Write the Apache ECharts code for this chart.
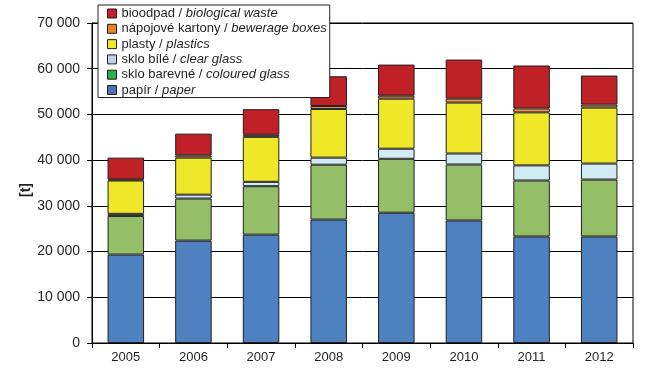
<!DOCTYPE html>
<html>
<head>
<meta charset="utf-8">
<script src="https://cdn.jsdelivr.net/npm/echarts@6/dist/echarts.min.js"></script>
<style>
  html, body { margin: 0; padding: 0; background: #fff; }
  #chart { width: 651px; height: 375px; }
</style>
</head>
<body>
<div id="chart"></div>
<script>
// data (t)
const years = ['2005', '2006', '2007', '2008', '2009', '2010', '2011', '2012'];
const paper = [19350, 22400, 23700, 27000, 28500, 26800, 23300, 23300];
const colouredGlass = [8450, 9200, 10600, 12000, 11800, 12250, 12250, 12450];
const clearGlass = [450, 850, 950, 1550, 2200, 2400, 3300, 3500];
const plastics = [7300, 8100, 9850, 10650, 10950, 11150, 11600, 12250];
const boxes = [200, 500, 450, 650, 650, 850, 850, 650];
const bioWaste = [4800, 4750, 5600, 6500, 6800, 8550, 9400, 6350];
const yTicks = [0, 10000, 20000, 30000, 40000, 50000, 60000, 70000];

const names = [
  'papír / paper',
  'sklo barevné / coloured glass',
  'sklo bílé / clear glass',
  'plasty / plastics',
  'nápojové kartony / bewerage boxes',
  'bioodpad / biological waste'
];
const barColors = ['#4e81bf', '#94be68', '#d0ebf3', '#eee829', '#f79646', '#c02127'];
const legendColors = ['#4a72b0', '#2bae4a', '#bed3ea', '#eee829', '#f07f2a', '#c8202a'];
const values = [paper, colouredGlass, clearGlass, plastics, boxes, bioWaste];

const fmt = v => String(v).replace(/\B(?=(\d{3})+(?!\d))/g, ' ');

const chart = echarts.init(document.getElementById('chart'));
chart.setOption({
  animation: false,
  textStyle: { fontFamily: 'Liberation Sans, Arial, sans-serif', color: '#231f20' },
  grid: {
    left: 92, right: 18, top: 23, bottom: 32,
    show: true, borderColor: '#000', borderWidth: 1
  },
  // unit label on the left, placed by hand
  graphic: [{
    type: 'text',
    x: 26, y: 190,
    rotation: Math.PI / 2,
    style: {
      text: '[t]',
      align: 'center',
      verticalAlign: 'middle',
      font: 'bold 14px "Liberation Sans", Arial, sans-serif',
      fill: '#231f20'
    }
  }],
  legend: {
    orient: 'vertical',
    left: 98, top: 5,
    padding: [2, 3, 1, 9],
    backgroundColor: '#fff',
    borderColor: '#231f20',
    borderWidth: 1,
    itemWidth: 9, itemHeight: 9,
    itemGap: 2.3,
    icon: 'rect',
    z: 10,
    data: names.slice().reverse().map((n, i) => ({
      name: n,
      itemStyle: { color: legendColors[5 - i], borderColor: '#231f20', borderWidth: 1 }
    })),
    formatter: n => {
      const parts = n.split(' / ');
      return parts[0] + ' / {i|' + parts[1] + '}';
    },
    textStyle: {
      fontSize: 13, color: '#231f20', lineHeight: 12,
      rich: { i: { fontStyle: 'italic', fontSize: 13, color: '#231f20', lineHeight: 12 } }
    }
  },
  xAxis: {
    type: 'category',
    data: years,
    axisLine: { lineStyle: { color: '#000' } },
    axisTick: { show: true, length: 5, lineStyle: { color: '#000' } },
    axisLabel: { fontSize: 13, color: '#231f20', margin: 8 }
  },
  yAxis: {
    type: 'value',
    min: 0, max: 70000, interval: 10000,
    axisLine: { show: true, lineStyle: { color: '#000' } },
    axisTick: { show: true, length: 5, lineStyle: { color: '#000' } },
    axisLabel: {
      fontSize: 14, color: '#231f20', margin: 12,
      formatter: v => yTicks.includes(v) ? fmt(v) : ''
    },
    splitLine: { show: true, lineStyle: { color: '#000', width: 1 } }
  },
  series: names.map((n, i) => ({
    name: n,
    type: 'bar',
    stack: 'total',
    barWidth: '54%',
    data: values[i],
    itemStyle: { color: barColors[i], borderColor: '#231f20', borderWidth: 1 }
  }))
});
</script>
</body>
</html>
